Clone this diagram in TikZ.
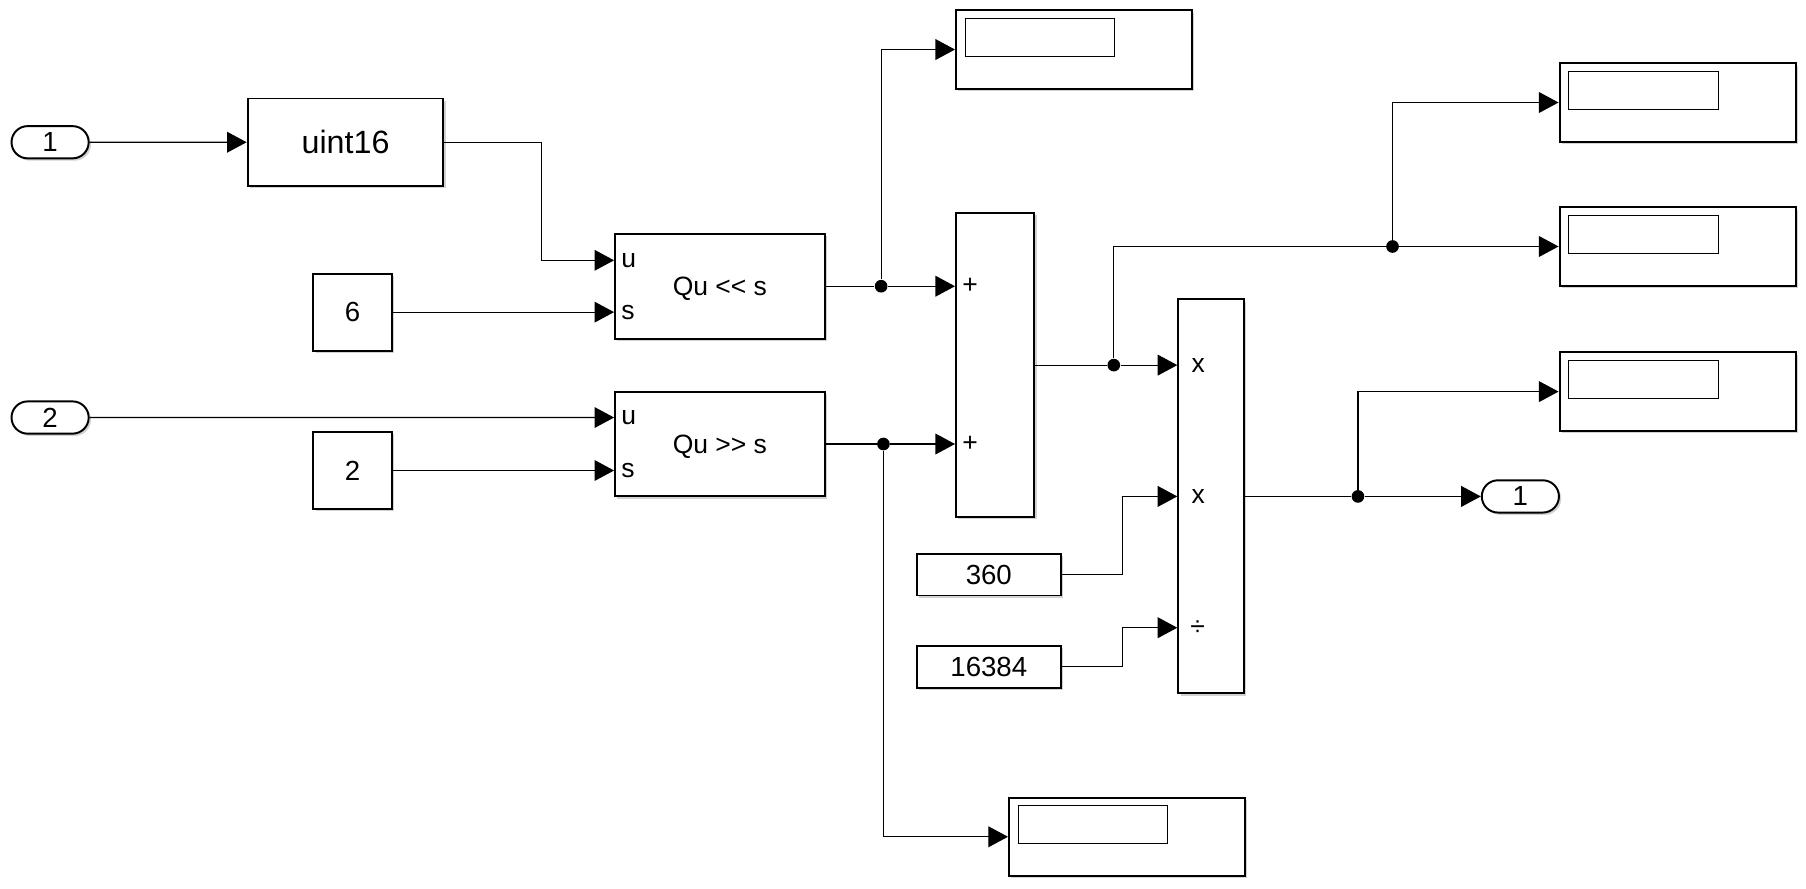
\documentclass[tikz,border=0pt]{standalone}
\usepackage{fontspec}
\setmainfont{Liberation Sans}
\usetikzlibrary{arrows.meta,shapes.misc,shadows}

\begin{document}
\begin{tikzpicture}[x=0.5pt,y=-0.5pt]
\tikzstyle{block}=[draw,line width=0.85pt,fill=white,text depth=0pt,font=\fontsize{12}{14}\selectfont,drop shadow={shadow xshift=1pt,shadow yshift=-1pt,fill=black!35}]
\tikzstyle{inport}=[block,rounded rectangle,minimum width=33.5pt,minimum height=14pt,inner sep=0pt]
\tikzstyle{constblock}=[block,minimum width=34pt,minimum height=33.5pt,inner sep=0pt]
\tikzstyle{shiftblock}=[block,minimum width=91pt,minimum height=45.5pt,inner sep=0pt,font=\fontsize{11.5}{13}\selectfont]
\tikzstyle{scopebox}=[block,minimum width=102.5pt,minimum height=34pt,path picture={\draw[line width=0.45pt] ([shift={(4pt,-3.5pt)}]path picture bounding box.north west) rectangle ++(65pt,-16.5pt);}]
\tikzstyle{port}=[inner sep=0pt,anchor=west,font=\fontsize{11.5}{13}\selectfont]
\tikzstyle{junction}=[circle,fill,inner sep=0pt,minimum size=5.5pt]
\tikzstyle{wire}=[line width=0.5pt,-{Triangle[length=8.5pt,width=9pt]}]
\useasboundingbox (0,0) rectangle (1568,771);

\node[inport] (in1) at (43.5,123.5) {1};
\node[block,minimum width=85pt,minimum height=38pt,font=\fontsize{14}{16}\selectfont] (cvt) at (300,123.5) {uint16};
\node[constblock] (c6) at (306,271) {6};
\node[shiftblock] (shl) at (625,248.5) {Qu <\kern0pt< s};
\node[inport] (in2) at (43.5,362.5) {2};
\node[constblock] (c2) at (306,408.5) {2};
\node[shiftblock] (shr) at (625,385.5) {Qu >\kern0pt> s};
\node[block,minimum width=34pt,minimum height=132pt] (sum) at (864,317) {};
\node[block,minimum width=28.5pt,minimum height=171pt] (prod) at (1051.5,431) {};
\node[block,minimum width=62.5pt,minimum height=18pt] (k360) at (858.5,499) {360};
\node[block,minimum width=62.5pt,minimum height=18pt] (k16384) at (858.5,579) {16384};
\node[inport] (out1) at (1320,431) {1};
\node[scopebox] (scA) at (932.5,43) {};
\node[scopebox] (scB) at (1456.5,89) {};
\node[scopebox] (scC) at (1456.5,214) {};
\node[scopebox] (scD) at (1456.5,340) {};
\node[scopebox] (scE) at (978.5,726.5) {};

\coordinate (shl u) at ([yshift=11.25pt]shl.west);
\coordinate (shl s) at ([yshift=-11.25pt]shl.west);
\coordinate (shr u) at ([yshift=11.5pt]shr.west);
\coordinate (shr s) at ([yshift=-11.5pt]shr.west);
\coordinate (sum a) at (sum.west |- shl.east);
\coordinate (sum b) at (sum.west |- shr.east);
\coordinate (prod a) at ([yshift=57pt]prod.west);
\coordinate (prod b) at (prod.west);
\coordinate (prod c) at ([yshift=-57pt]prod.west);

\node[port] (lu1) at ([xshift=3pt]shl u) {u};
\node[port] (ls1) at ([xshift=3pt]shl s) {s};
\node[port] (lu2) at ([xshift=3pt]shr u) {u};
\node[port] (ls2) at ([xshift=3pt]shr s) {s};
\node[port] (lp1) at ([xshift=3pt]sum a) {+};
\node[port] (lp2) at ([xshift=3pt]sum b) {+};
\node[port] (lx1) at ([xshift=6pt]prod a) {x};
\node[port] (lx2) at ([xshift=6pt]prod b) {x};
\node[port] (ld) at ([xshift=5.5pt]prod c) {÷};

\node[junction] (j1) at (765,248.5) {};
\node[junction] (j2) at (767,385.5) {};
\node[junction] (j3) at (967,317) {};
\node[junction] (j4) at (1209,214) {};
\node[junction] (j5) at (1179,431) {};

\draw[wire] (in1) -- (cvt);
\draw[wire] (cvt.east) -- ++(84,0) |- (shl u);
\draw[wire] (c6) -- (shl s);
\draw[wire] (in2) -- (shr u);
\draw[wire] (c2) -- (shr s);
\draw[line width=0.5pt] (shl.east) -- (j1);
\draw[wire] (j1) -- (sum a);
\draw[wire] (j1) |- (scA.west);
\draw[line width=0.5pt] (shr.east) -- (j2);
\draw[wire] (j2) -- (sum b);
\draw[wire] (j2) |- (scE.west);
\draw[line width=0.5pt] (sum.east) -- (j3);
\draw[wire] (j3) -- (prod a);
\draw[line width=0.5pt] (j3) |- (j4);
\draw[wire] (j4) -- (scC.west);
\draw[wire] (j4) |- (scB.west);
\draw[wire] (k360.east) -- ++(53,0) |- (prod b);
\draw[wire] (k16384.east) -- ++(53,0) |- (prod c);
\draw[line width=0.5pt] (prod.east) -- (j5);
\draw[wire] (j5) -- (out1);
\draw[wire] (j5) |- (scD.west);
\end{tikzpicture}
\end{document}
